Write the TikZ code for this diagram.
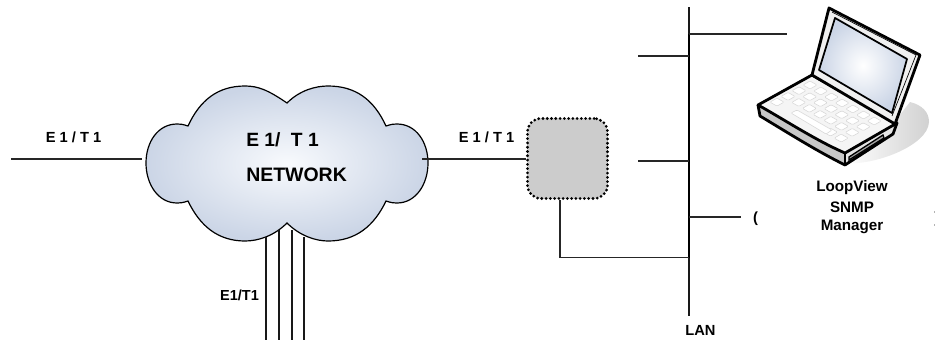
\documentclass[tikz,border=0pt]{standalone}
\usepackage{fontspec}
\setmainfont{Liberation Sans}
\definecolor{cloudout}{HTML}{CBD5E6}
\definecolor{cloudin}{HTML}{F8FAFD}
\definecolor{boxgray}{HTML}{CCCCCC}
\tikzset{
  lbl/.style={inner sep=0pt,align=center,font=\bfseries\fontsize{#1}{#1}\selectfont,text=black},
  wire/.style={draw=black!85,line width=1.05pt},
  thin wire/.style={draw=black!90,line width=0.8pt},
  pc/.style={draw=black,line width=2.1pt,line join=round},
  keycap/.style={fill=white,draw=black!16,line width=0.4pt,rounded corners=0.8pt}
}
\begin{document}
\begin{tikzpicture}[x=0.75pt,y=-0.75pt]
\useasboundingbox (0,0) rectangle (935,340);
% cloud
\def\cloudpath{(287,103) .. controls (268,90) and (258,86) .. (245,86)
  .. controls (218,86) and (200,100) .. (188,126)
  .. controls (182,124) and (180,124) .. (177,124)
  .. controls (158,124) and (146,142) .. (146,163)
  .. controls (146,184) and (158,203) .. (177,203)
  .. controls (180,203) and (182,203) .. (188,201)
  .. controls (200,226) and (218,241) .. (245,241)
  .. controls (258,241) and (274,236) .. (287,223)
  .. controls (300,236) and (316,241) .. (328,241)
  .. controls (356,241) and (374,226) .. (386,201)
  .. controls (392,203) and (394,203) .. (397,203)
  .. controls (416,203) and (428,184) .. (428,163)
  .. controls (428,142) and (416,124) .. (397,124)
  .. controls (394,124) and (392,124) .. (386,126)
  .. controls (374,100) and (356,86) .. (328,86)
  .. controls (316,86) and (300,90) .. (287,103) -- cycle}
\shade[inner color=cloudin,outer color=cloudout] \cloudpath;
\draw[black,line width=0.9pt] \cloudpath;
\node[lbl=14.4,anchor=west] (nettop) at (246,140) {E 1/\hspace{0.55em}T 1};
\node[lbl=14.6,anchor=west] (netbot) at (246,175) {NETWORK};
% named anchors
\coordinate (leftend) at (11,159);
\coordinate (cloudL) at (142,159);
\coordinate (cloudR) at (422,159);
\node[draw=black,fill=boxgray,line width=2.3pt,rounded corners=10pt,dash pattern=on 0pt off 3.2pt,line cap=round,minimum width=60pt,minimum height=60pt,inner sep=0pt] (box) at (567.5,158.5) {};
\coordinate (lantop) at (689,7);
\coordinate (lanbot) at (689,316);
\coordinate (lanA) at (689,34);
\coordinate (lanB) at (689,56);
\coordinate (lanC) at (689,161);
\coordinate (lanD) at (689,217);
\coordinate (lanE) at (689,257.5);
\coordinate (endA) at (787,34);
\coordinate (endB) at (638,56);
\coordinate (endC) at (638,161);
\coordinate (endD) at (741,217);
\coordinate (boxdown) at (560,257.5);
% connectors
\draw[wire] (leftend) -- (cloudL);
\draw[wire] (cloudR) -- (box.west |- cloudR);
\draw[thin wire] (lantop) -- (lanbot);
\draw[draw=black,line width=1.6pt] (lanA) -- (lanE);
\draw[wire] (lanA) -- (endA);
\draw[wire] (lanB) -- (endB);
\draw[wire] (lanC) -- (endC);
\draw[wire] (lanD) -- (endD);
\draw[wire] (box.south -| boxdown) -- (boxdown) -- (lanE);
\coordinate (t1) at (266,237); \coordinate (b1) at (266,340);
\coordinate (t2) at (279,230); \coordinate (b2) at (279,340);
\coordinate (t3) at (292,230); \coordinate (b3) at (292,340);
\coordinate (t4) at (304,237); \coordinate (b4) at (304,340);
\foreach \n in {1,2,3,4} \draw[thin wire] (t\n) -- (b\n);
% labels
\node[lbl=11] (l1) at (73.5,137) {E 1 / T 1};
\node[lbl=11] (l2) at (486.5,137) {E 1 / T 1};
\node[lbl=10.9] (l3) at (239.5,295) {E1/T1};
\node[lbl=11] (l4) at (700.5,330) {LAN};
\node[lbl=11.4] (l5) at (852,188) {LoopView};
\node[lbl=11.4] (l6) at (852,207) {SNMP};
\node[lbl=11.4] (l7) at (852,227) {Manager};
\node[lbl=11] (l8) at (755.5,219) {(};
% laptop
\shade[left color=white,right color=black!18] (845,163) .. controls (873,166) and (928,146) .. (929,122) .. controls (929,112) and (922,105) .. (910,102) -- (880,140) -- cycle;
% base
\fill[black!22] (758,105) -- (845,153) -- (845,165) -- (760,116) -- cycle;
\fill[black!10] (845,153) -- (897,123) -- (893,133) -- (845,165) -- cycle;
\draw[pc,fill=black!4] (758,105) -- (812,75) -- (897,123) -- (845,153) .. controls (815,140) and (785,120) .. (758,105) -- cycle;
\draw[pc] (758,105) -- (760,116) .. controls (790,134) and (815,150) .. (845,165) -- (893,134) -- (897,123);
\draw[pc] (845,153) -- (845,165);
\draw[black,line width=1pt,fill=black!35] (849,157) -- (883,135) -- (884,138) -- (849,160) -- cycle;
% keys
\foreach \i in {0,...,6}{\foreach \j in {0,1,2,3}{
  \pgfmathtruncatemacro{\skipkey}{(\j==3 && \i>0 && \i<5) ? 1 : 0}
  \ifnum\skipkey=0
    \path[keycap,shift={({810+\i*10.7-\j*11},{85+\i*6+\j*5.7})}] (-7,0) -- (0,-4) -- (7,0) -- (0,4) -- cycle;
  \fi
}}
\path[keycap] (791,113) -- (797,110) -- (832,130) -- (826,134) -- cycle;
% lid
\draw[pc,fill=black!6] (812,75) -- (829,8) -- (920,55) -- (895,124) -- cycle;
\draw[black,line width=0.5pt] (832,12) -- (916,55) -- (892,116);
\shade[inner color=white,outer color=cloudout] (835,18) -- (907,59) -- (892,113) -- (819,70) -- cycle;
\draw[black,line width=1.3pt,line join=round] (835,18) -- (907,59) -- (892,113) -- (819,70) -- cycle;
% faint marks at the right edge
\fill[black!30] (933.5,211) rectangle (935,213);
\fill[black!30] (933.5,224) rectangle (935,226);
\end{tikzpicture}
\end{document}
